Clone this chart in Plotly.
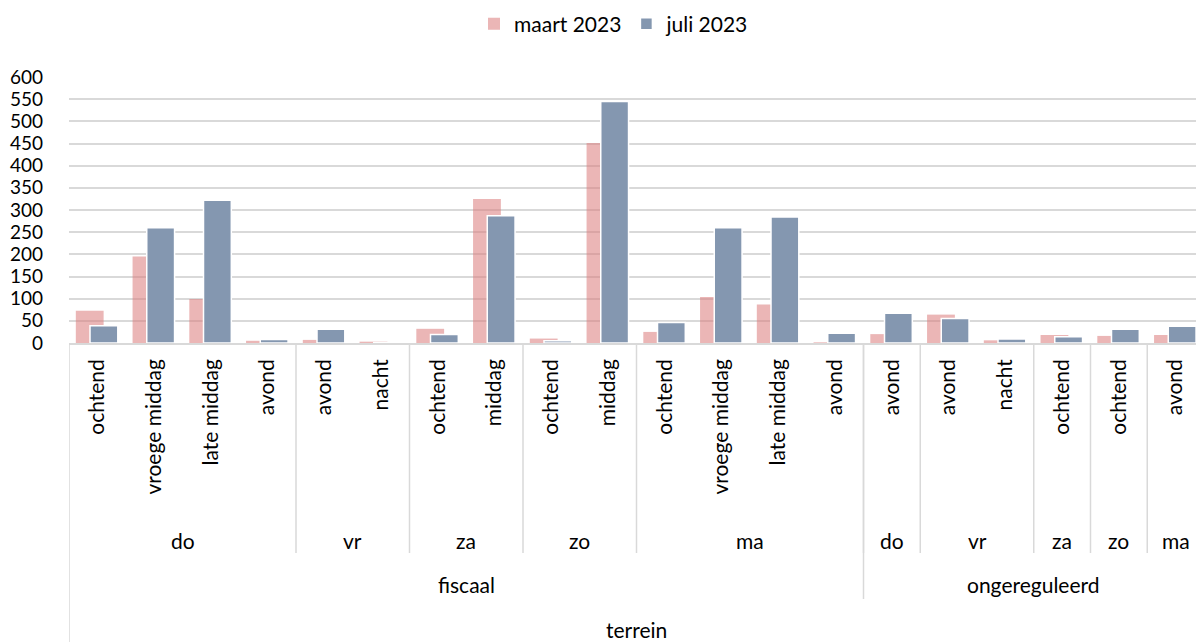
import plotly.graph_objects as go

# ---- data ----
groups = ["fiscaal"] * 14 + ["ongereguleerd"] * 6
days = ["do", "do", "do", "do", "vr", "vr", "za", "za", "zo", "zo",
        "ma", "ma", "ma", "ma",
        "do", "vr", "vr", "za", "zo", "ma"]
times = ["ochtend", "vroege middag", "late middag", "avond",
         "avond", "nacht",
         "ochtend", "middag",
         "ochtend", "middag",
         "ochtend", "vroege middag", "late middag", "avond",
         "avond", "avond", "nacht", "ochtend", "ochtend", "avond"]
maart_2023 = [73, 195, 99, 5, 7, 3, 32, 325, 10, 451, 25, 104, 87, 1.5,
              20, 64, 6, 18, 16, 18]
juli_2023 = [39, 260, 322, 8, 31, 1, 19, 287, 5, 545, 46, 260, 284, 22,
             67, 55, 9, 14, 31, 38]
outer_title = "terrein"

FONT = "Lato, 'Open Sans', sans-serif"
GRID = "#D9D9D9"

xs = list(range(len(times)))

fig = go.Figure()
fig.add_trace(go.Bar(
    x=xs, y=maart_2023, name="maart 2023",
    marker=dict(color="rgba(220,125,125,0.56)", line=dict(width=0)),
    width=0.49, offset=-0.38,
))
fig.add_trace(go.Bar(
    x=xs, y=juli_2023, name="juli 2023",
    marker=dict(color="#8497B0", line=dict(color="white", width=1.5)),
    width=0.49, offset=-0.13,
))

# page has an 8px body margin: the figure starts at page (8, 8)
OFF = 8
W, H = 1204 - OFF, 642 - OFF
PLOT_TOP, PLOT_BOT, PLOT_LEFT = 77, 343, 69     # page pixels
T = PLOT_TOP - OFF
L = PLOT_LEFT - OFF
B = H - (PLOT_BOT - OFF)
plot_h = PLOT_BOT - PLOT_TOP

def py(pix):
    """convert a page pixel row to paper y"""
    return (PLOT_BOT - pix) / plot_h

shapes = []
annotations = []

def spans(keys):
    out = []
    start = 0
    for i in range(1, len(keys) + 1):
        if i == len(keys) or keys[i] != keys[start]:
            out.append((start, i - 1))
            start = i
    return out

lab = dict(family=FONT, size=21, color="#000")

day_keys = [g + "|" + d for g, d in zip(groups, days)]
for s, e in spans(day_keys):
    annotations.append(dict(x=(s + e) / 2, y=py(540), xref="x", yref="paper",
                            text=days[s], showarrow=False, font=lab,
                            xanchor="center", yanchor="middle"))
    if s > 0:
        shapes.append(dict(type="line", xref="x", yref="paper",
                           x0=s - 0.5, x1=s - 0.5, y0=0, y1=py(553),
                           line=dict(color=GRID, width=1.5)))

for s, e in spans(groups):
    annotations.append(dict(x=(s + e) / 2, y=py(584), xref="x", yref="paper",
                            text=groups[s], showarrow=False, font=lab,
                            xanchor="center", yanchor="middle"))
    if s > 0:
        shapes.append(dict(type="line", xref="x", yref="paper",
                           x0=s - 0.5, x1=s - 0.5, y0=0, y1=py(599),
                           line=dict(color=GRID, width=1.5)))

annotations.append(dict(x=(len(xs) - 1) / 2, y=py(629), xref="x", yref="paper",
                        text=outer_title, showarrow=False, font=lab,
                        xanchor="center", yanchor="middle"))
shapes.append(dict(type="line", xref="x", yref="paper",
                   x0=-0.5, x1=-0.5, y0=0, y1=py(660),
                   line=dict(color=GRID, width=1.5)))

fig.update_layout(
    width=W, height=H,
    margin=dict(l=L, r=0, t=T, b=B, pad=0, autoexpand=False),
    paper_bgcolor="white", plot_bgcolor="white",
    barmode="overlay",
    font=lab,
    showlegend=True,
    legend=dict(orientation="h", x=(614 - PLOT_LEFT) / 1135, xanchor="center",
                y=1 - (24 - OFF) / H, yanchor="middle", yref="container",
                xref="paper", font=lab, itemwidth=30, traceorder="normal"),
    xaxis=dict(range=[-0.5, len(xs) - 0.5], tickmode="array", tickvals=xs,
               ticktext=times, tickangle=-90, showgrid=False,
               showline=True, linecolor=GRID, linewidth=1.5,
               ticks="", ticklabelstandoff=6, zeroline=False,
               tickfont=lab, automargin=False, fixedrange=True),
    yaxis=dict(range=[0, 600], dtick=50, tick0=0, showgrid=True,
               gridcolor=GRID, gridwidth=1.5, zeroline=False,
               showline=False, ticks="", ticklabelstandoff=25,
               tickfont=dict(family=FONT, size=19, color="#000"),
               automargin=False, fixedrange=True),
    shapes=shapes,
    annotations=annotations,
)

fig.write_html("out.html")
